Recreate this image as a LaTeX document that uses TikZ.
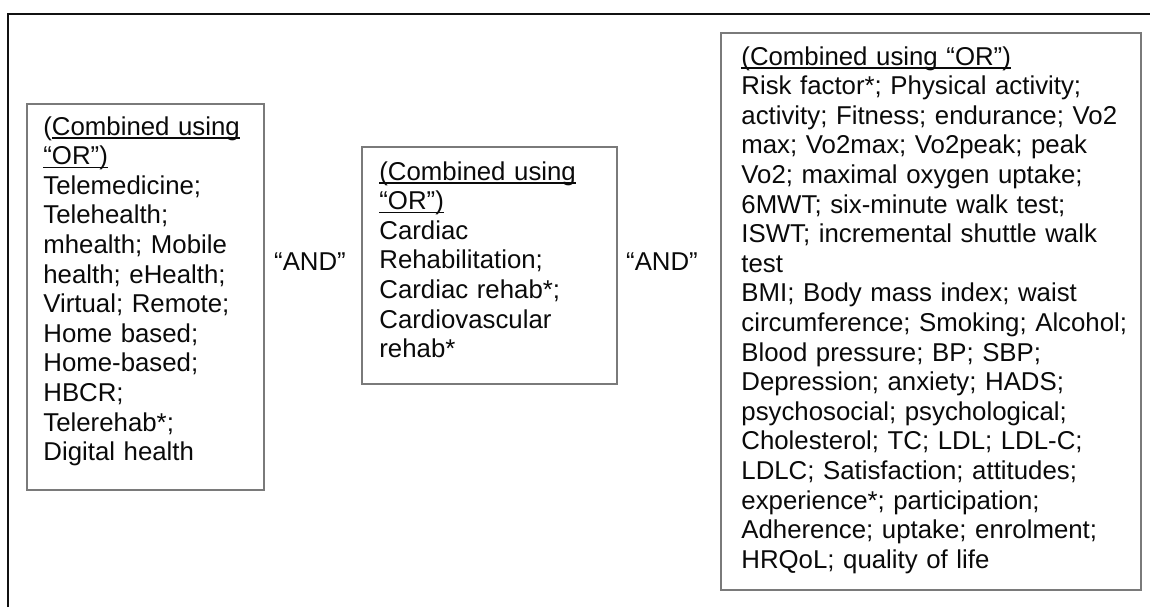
\documentclass[tikz,border=0pt]{standalone}
\usepackage{fontspec}
\setmainfont{Liberation Sans}
\usepackage{xcolor}
\definecolor{colFrame}{HTML}{111111}
\definecolor{colBox}{HTML}{7A7A7A}
\definecolor{colText}{HTML}{0A0A0A}
\usepackage{tikz}
\usetikzlibrary{positioning}
% underline at a fixed depth, crossing the descenders
\newsavebox{\ulbox}
\newcommand{\termul}[1]{\sbox{\ulbox}{#1}\leavevmode\rlap{\rule[-1.9pt]{\wd\ulbox}{0.7pt}}\usebox{\ulbox}}

\begin{document}
\begin{tikzpicture}[x=0.5pt, y=0.5pt,
    termbox/.style={draw=colBox, line width=0.75pt, inner sep=0pt},
    termlist/.style={anchor=base west, inner sep=0pt, align=left, text=colText,
        font=\fontsize{12.9pt}{14.8pt}\selectfont},
    joiner/.style={inner sep=0pt, text=colText, font=\fontsize{12.9pt}{14.8pt}\selectfont}]
        % Scale: 1px -> 0.5pt, page 1150 x 607
        \useasboundingbox (0,0) rectangle (1150,607);
        % Outer frame (top and left edge only)
        \draw[colFrame, line width=1.4pt] (8,0) -- (8,593) -- (1150,593);
        % Boxes
        \node[termbox, minimum width=118.5pt, minimum height=193pt] (telebox) at (145.5,310) {};
        \node[termbox, minimum width=127.5pt, minimum height=118.5pt] (rehabbox) at (489.5,341.5) {};
        \node[termbox, minimum width=210pt, minimum height=278.5pt] (outcomebox) at (931,295.5) {};
        % Search terms
        \node[termlist, text width=110pt] (teleterms) at (43,472) {(\termul{Combined using}\\
            \termul{“OR”)}\\
            Telemedicine;\\
            Telehealth;\\
            mhealth; Mobile\\
            health; eHealth;\\
            Virtual; Remote;\\
            Home based;\\
            Home-based;\\
            HBCR;\\
            Telerehab*;\\
            Digital health};
        \node[termlist, text width=118pt] (rehabterms) at (379,427) {\termul{(Combined using}\\
            \termul{“OR”)}\\
            Cardiac\\
            Rehabilitation;\\
            Cardiac rehab*;\\
            Cardiovascular\\
            rehab*};
        \node[termlist, text width=199pt] (outcometerms) at (741,542) {\termul{(Combined using “OR”)}\\
            Risk factor*; Physical activity;\\
            activity; Fitness; endurance; Vo2\\
            max; Vo2max; Vo2peak; peak\\
            Vo2; maximal oxygen uptake;\\
            6MWT; six-minute walk test;\\
            ISWT; incremental shuttle walk\\
            test\\
            BMI; Body mass index; waist\\
            circumference; Smoking; Alcohol;\\
            Blood pressure; BP; SBP;\\
            Depression; anxiety; HADS;\\
            psychosocial; psychological;\\
            Cholesterol; TC; LDL; LDL-C;\\
            LDLC; Satisfaction; attitudes;\\
            experience*; participation;\\
            Adherence; uptake; enrolment;\\
            HRQoL; quality of life};
        % Boolean operators
        \node[joiner] (andone) at (310,345) {“AND”};
        \node[joiner] (andtwo) at (662,345) {“AND”};
    \end{tikzpicture}
\end{document}
